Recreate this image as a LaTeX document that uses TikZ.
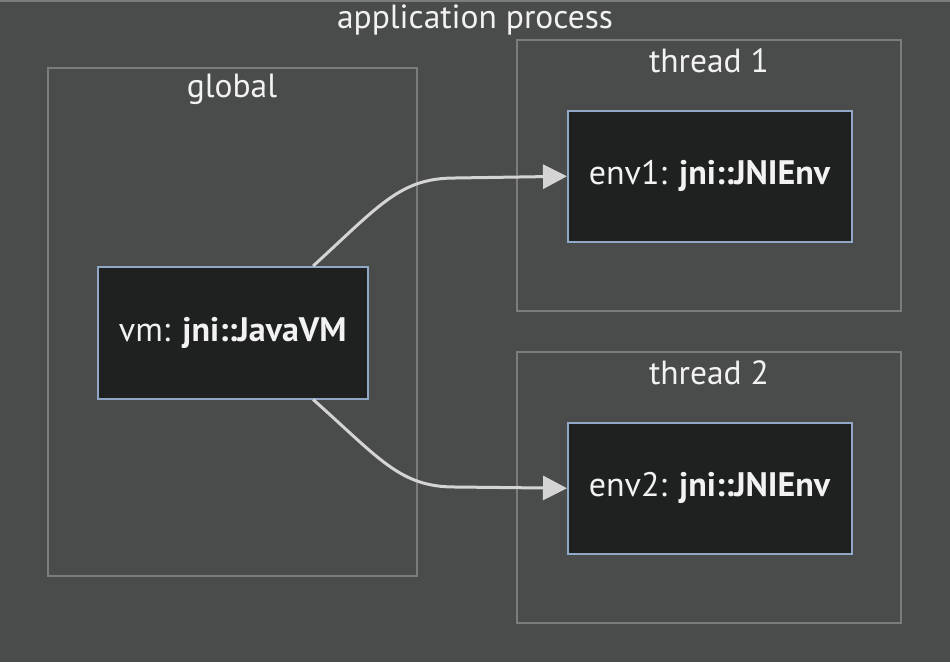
\documentclass[tikz,border=0pt]{standalone}
\usepackage{fontspec}
\setmainfont{PT Sans}
\usetikzlibrary{arrows.meta,calc}
\definecolor{bgc}{HTML}{4A4B4B}
\definecolor{clb}{HTML}{7C7C7C}
\definecolor{nfill}{HTML}{1F2020}
\definecolor{nbord}{HTML}{90A8C6}
\definecolor{txt}{HTML}{F2F2F2}
\definecolor{arr}{HTML}{D4D4D4}
\tikzset{
  cluster/.style={draw=clb, line width=1.5pt},
  cltitle/.style={text=txt, font=\fontsize{33.5}{36}\selectfont, anchor=center, inner sep=0pt},
  objnode/.style={draw=nbord, fill=nfill, line width=1.5pt, text=txt, font=\fontsize{34}{36}\selectfont, inner sep=0pt, anchor=north west},
  link/.style={draw=arr, line width=3pt, -{Triangle[length=24pt,width=24pt]}},
}
\begin{document}
\begin{tikzpicture}[x=1pt,y=-1pt]
\useasboundingbox (0,0) rectangle (950,662);
\fill[bgc] (0,0) rectangle (950,662);
\draw[cluster] (0,0.75) -- (950,0.75);
\node[cltitle] (tap) at (475,20) {application process};
% clusters
\draw[cluster] (48,68) rectangle (417,576);
\node[cltitle] (tglobal) at (232,89) {global};
\draw[cluster] (517,40) rectangle (901,311);
\node[cltitle] (tt1) at (709,61) {thread 1};
\draw[cluster] (517,352) rectangle (901,623);
\node[cltitle] (tt2) at (709,373) {thread 2};
% nodes
\node[objnode, minimum width=270pt, minimum height=132pt] (vm) at (97,266) {vm: \textbf{jni::JavaVM}};
\node[objnode, minimum width=284pt, minimum height=131pt] (env1) at (567,110) {env1: \textbf{jni::JNIEnv}};
\node[objnode, minimum width=284pt, minimum height=131pt] (env2) at (567,422) {env2: \textbf{jni::JNIEnv}};
% links
\coordinate (vmtop) at ($(vm.north west)!0.796!(vm.north east)$);
\coordinate (vmbot) at ($(vm.south west)!0.796!(vm.south east)$);
\draw[link] (vmtop) .. controls (380,205) and (400,178) .. (455,178) -- (env1.west);
\draw[link] (vmbot) .. controls (380,459) and (400,487) .. (455,487) -- (env2.west);
\end{tikzpicture}
\end{document}
